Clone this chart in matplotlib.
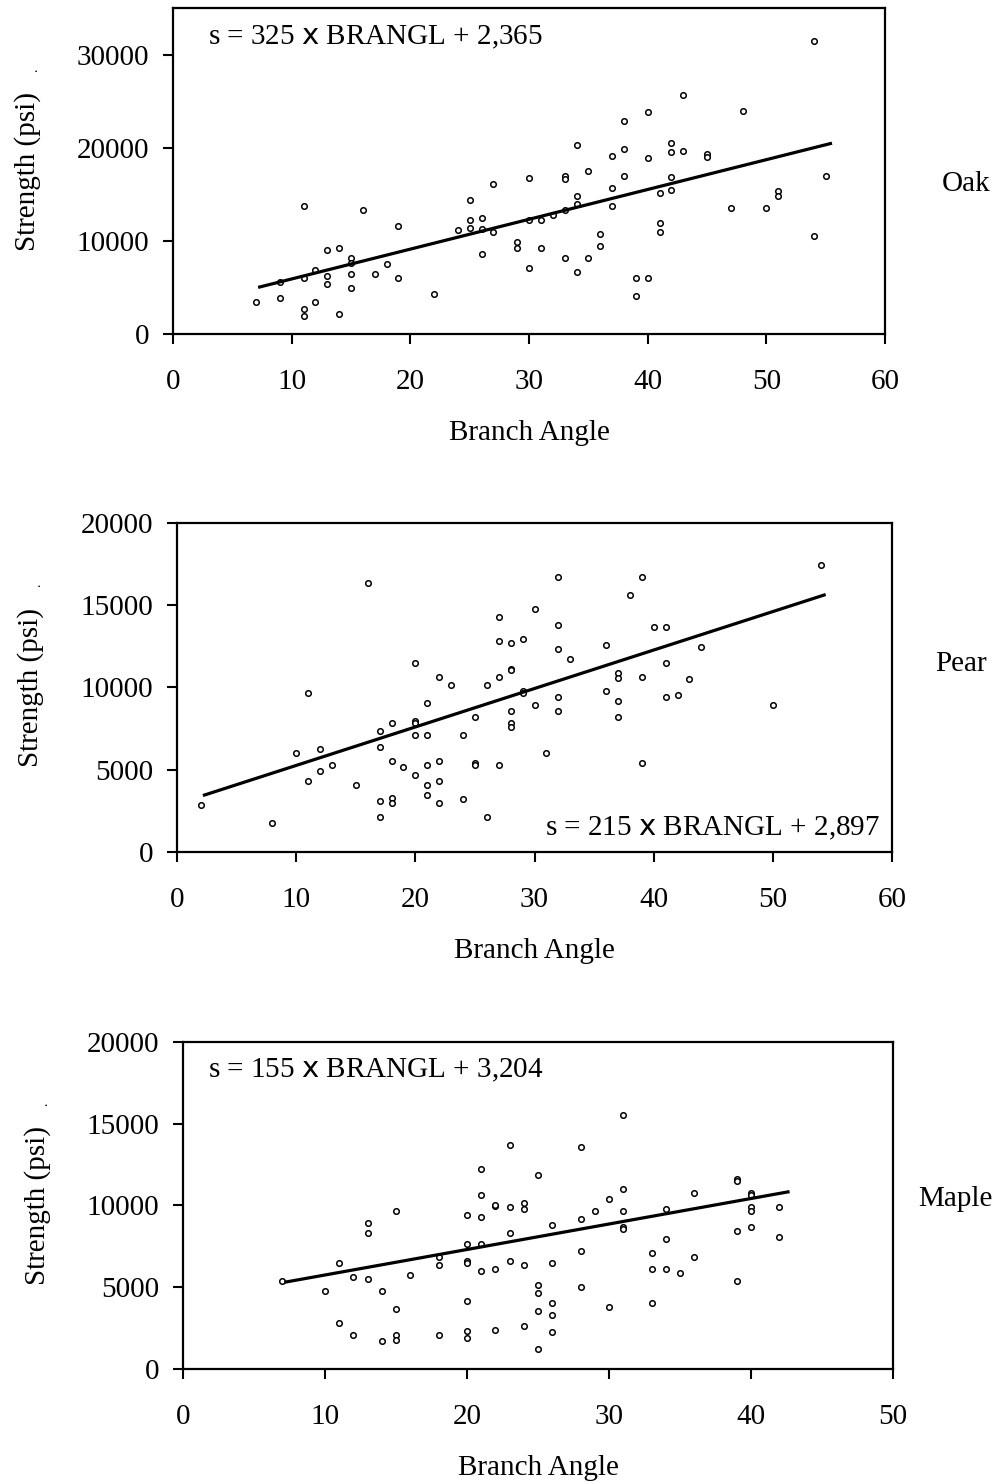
import matplotlib
matplotlib.use('Agg')  # headless
import matplotlib.pyplot as plt

plt.rcParams['font.family'] = ['Liberation Serif', 'DejaVu Serif']
plt.rcParams['mathtext.fontset'] = 'dejavusans'

# Oak data (branch angle, strength psi)
oak_angle = [7, 9, 9, 11, 11, 11, 11, 12, 12, 13, 13, 13, 14, 14, 15, 15, 15, 15, 16, 17, 18, 19, 19, 22,
             24, 25, 25, 25, 26, 26, 26, 27, 27, 29, 29, 30, 30, 30, 31, 31, 32, 33, 33, 33, 33, 34, 34, 34,
             34, 35, 35, 36, 36, 37, 37, 37, 38, 38, 38, 39, 39, 40, 40, 40, 41, 41, 41, 42, 42, 42, 42, 43,
             43, 45, 45, 47, 48, 50, 51, 51, 54, 54, 55]
oak_strength = [3440, 5620, 3900, 13760, 6050, 2650, 1940, 6910, 3440, 9030, 6240, 5380, 9250, 2150, 8170,
                7600, 6450, 4950, 13330, 6450, 7530, 11610, 6020, 4300, 11180, 14400, 12260, 11400, 12470,
                11260, 8600, 16130, 10970, 9890, 9250, 16770, 12260, 7100, 12260, 9280, 12800, 16990, 16630,
                13330, 8200, 20250, 14840, 14010, 6700, 17450, 8200, 10780, 9460, 19140, 15730, 13760, 22830,
                19860, 16990, 6060, 4090, 23870, 18920, 6060, 15090, 11900, 11000, 20460, 19570, 16810, 15480,
                25630, 19600, 19320, 18960, 13580, 23910, 13580, 15340, 14840, 31430, 10540, 16990]
oak_fit_angle = [7.3, 55.4]
oak_fit_strength = [5050, 20450]
oak_xticks = [0, 10, 20, 30, 40, 50, 60]
oak_yticks = [0, 10000, 20000, 30000]

# Pear data
pear_angle = [2, 8, 10, 11, 11, 12, 12, 13, 15, 16, 17, 17, 17, 17, 18, 18, 18, 18, 19, 20, 20, 20, 20, 20,
              21, 21, 21, 21, 21, 22, 22, 22, 22, 23, 24, 24, 25, 25, 25, 26, 26, 27, 27, 27, 27, 28, 28, 28,
              28, 28, 28, 29, 29, 29, 30, 30, 31, 32, 32, 32, 32, 32, 33, 36, 36, 37, 37, 37, 37, 38, 39, 39,
              39, 40, 41, 41, 41, 42, 43, 44, 50, 54]
pear_strength = [2860, 1780, 6040, 9690, 4340, 6280, 4940, 5290, 4070, 16370, 7370, 6380, 3100, 2150, 7860,
                 5550, 3260, 2980, 5190, 11510, 7960, 7820, 7110, 4680, 9080, 7110, 5290, 4070, 3480, 10660,
                 5550, 4340, 2980, 10170, 7110, 3240, 8230, 5390, 5290, 10170, 2150, 14300, 12850, 10660, 5290,
                 12710, 11140, 11040, 8590, 7860, 7620, 12970, 9810, 9690, 14790, 8960, 6040, 16740, 13800,
                 12340, 9440, 8590, 11750, 12580, 9810, 10900, 10550, 9200, 8230, 15620, 16740, 10660, 5430,
                 13700, 13700, 11510, 9440, 9560, 10540, 12470, 8960, 17470]
pear_fit_angle = [2.3, 54.3]
pear_fit_strength = [3460, 15620]
pear_xticks = [0, 10, 20, 30, 40, 50, 60]
pear_yticks = [0, 5000, 10000, 15000, 20000]

# Maple data
maple_angle = [7, 10, 11, 11, 12, 12, 13, 13, 13, 14, 14, 15, 15, 15, 15, 16, 18, 18, 18, 20, 20, 20, 20, 20,
               20, 20, 21, 21, 21, 21, 21, 22, 22, 22, 22, 23, 23, 23, 23, 24, 24, 24, 24, 25, 25, 25, 25, 25,
               26, 26, 26, 26, 26, 28, 28, 28, 28, 29, 30, 30, 31, 31, 31, 31, 31, 33, 33, 33, 34, 34, 34, 35,
               36, 36, 39, 39, 39, 39, 40, 40, 40, 40, 40, 42, 42]
maple_strength = [5400, 4790, 6500, 2830, 5650, 2100, 8950, 8340, 5520, 4790, 1700, 9680, 3690, 2100, 1800,
                  5770, 6870, 6380, 2100, 9440, 7650, 6620, 6500, 4180, 2300, 1900, 12250, 10660, 9310, 7650,
                  6010, 9970, 10030, 6130, 2400, 13720, 9930, 8340, 6620, 10170, 9800, 6380, 2650, 11880, 5160,
                  4670, 3570, 1200, 8830, 6500, 4050, 3320, 2250, 13600, 9190, 7240, 5030, 9680, 10420, 3810,
                  15550, 11030, 9680, 8660, 8540, 7110, 6130, 4050, 9800, 7970, 6130, 5890, 10780, 6870, 11640,
                  11520, 8460, 5400, 10780, 10660, 9930, 9640, 8700, 9930, 8090]
maple_fit_angle = [7.25, 42.6]
maple_fit_strength = [5320, 10830]
maple_xticks = [0, 10, 20, 30, 40, 50]
maple_yticks = [0, 5000, 10000, 15000, 20000]

TICK_SIZE = 21
LABEL_SIZE = 21


def draw_panel(fig, rect, angle, strength, fit_x, fit_y, xticks, yticks, ymax,
               eq_text, eq_pos, eq_ha, species, species_pos):
    ax = fig.add_axes(rect)
    ax.scatter(angle, strength, s=16, facecolors='white', edgecolors='black',
               linewidths=1.1, zorder=3)
    ax.plot(fit_x, fit_y, color='black', linewidth=2.3, zorder=4)

    ax.set_xticks(xticks)
    ax.set_yticks(yticks)
    ax.set_xlim(xticks[0], xticks[-1])
    ax.set_ylim(0, ymax)

    for sp in ax.spines.values():
        sp.set_linewidth(1.6)
    ax.tick_params(axis='both', direction='out', length=7, width=1.5, labelsize=TICK_SIZE)
    ax.tick_params(axis='x', pad=18)
    ax.tick_params(axis='y', pad=10)

    ax.set_xlabel('Branch Angle', fontsize=LABEL_SIZE, labelpad=18)
    ax.text(-0.205, 0.5, 'Strength (psi)', transform=ax.transAxes, rotation=90,
            ha='center', va='center', fontsize=LABEL_SIZE)
    ax.text(-0.196, 0.81, '.', transform=ax.transAxes, rotation=90,
            ha='center', va='center', fontsize=10)

    ax.text(eq_pos[0], eq_pos[1], eq_text, transform=ax.transAxes, ha=eq_ha,
            va='center', fontsize=LABEL_SIZE)
    ax.text(species_pos[0], species_pos[1], species, transform=ax.transAxes, ha='left',
            va='center', fontsize=LABEL_SIZE)
    return ax


fig = plt.figure(figsize=(10.03, 14.84), dpi=100)

draw_panel(fig, [0.1725, 0.7749, 0.7099, 0.2197], oak_angle, oak_strength,
           oak_fit_angle, oak_fit_strength, oak_xticks, oak_yticks, 35000,
           's = 325 $\\mathsf{x}$ BRANGL + 2,365', (0.049, 0.91), 'left', 'Oak', (1.08, 0.46))
draw_panel(fig, [0.1765, 0.4259, 0.7129, 0.2217], pear_angle, pear_strength,
           pear_fit_angle, pear_fit_strength, pear_xticks, pear_yticks, 20000,
           's = 215 $\\mathsf{x}$ BRANGL + 2,897', (0.983, 0.073), 'right', 'Pear', (1.06, 0.57))
draw_panel(fig, [0.1825, 0.0775, 0.7079, 0.2204], maple_angle, maple_strength,
           maple_fit_angle, maple_fit_strength, maple_xticks, maple_yticks, 20000,
           's = 155 $\\mathsf{x}$ BRANGL + 3,204', (0.035, 0.914), 'left', 'Maple', (1.035, 0.52))

fig.savefig('out.png', dpi=100)
